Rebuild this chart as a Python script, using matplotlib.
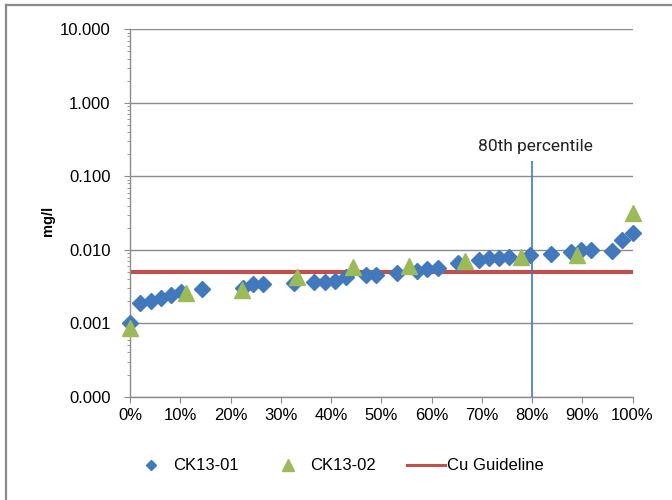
import matplotlib
matplotlib.use("Agg")
import matplotlib.pyplot as plt
from matplotlib.ticker import FixedLocator, LogLocator, FuncFormatter, NullFormatter
from matplotlib.lines import Line2D

# ---- data ----
ck1_pct = [0, 2.0, 4.1, 6.1, 8.2, 10.2, 14.3, 22.4, 24.5, 26.5, 32.7, 36.7, 38.8,
           40.8, 42.9, 46.9, 49.0, 53.1, 57.1, 59.2, 61.2, 65.3, 69.4, 71.4, 73.5,
           75.5, 79.6, 83.7, 87.8, 89.8, 91.8, 95.9, 98.0, 100]
ck1_val = [0.0010, 0.0019, 0.0020, 0.0022, 0.0024, 0.0027, 0.0029, 0.0030, 0.0034,
           0.0034, 0.0035, 0.0036, 0.0036, 0.0038, 0.0042, 0.0046, 0.0046, 0.0049,
           0.0052, 0.0055, 0.0056, 0.0066, 0.0072, 0.0076, 0.0076, 0.0079, 0.0086,
           0.0088, 0.0093, 0.0098, 0.0098, 0.0096, 0.0137, 0.0168]
ck2_pct = [0, 11.1, 22.2, 33.3, 44.4, 55.6, 66.7, 77.8, 88.9, 100]
ck2_val = [0.00086, 0.0026, 0.0028, 0.0042, 0.0058, 0.0061, 0.0071, 0.0079, 0.0084, 0.0319]
guideline = 0.005
pct80 = 80
x_ticks = [0, 10, 20, 30, 40, 50, 60, 70, 80, 90, 100]
y_ticks = [0.0001, 0.001, 0.01, 0.1, 1, 10]
labels = ["CK13-01", "CK13-02", "Cu Guideline"]

BLUE = "#4279BD"
GREEN = "#9BBB59"
RED = "#C0504D"
GRID = "#8C8C8C"

plt.rcParams["font.family"] = ["Liberation Sans", "DejaVu Sans"]

W, H = 672, 500
fig = plt.figure(figsize=(W / 100, H / 100), dpi=100)
ax = fig.add_axes([130 / W, (H - 396.7) / H, (632.5 - 130) / W, (396.7 - 29.3) / H])

ax.set_yscale("log")
ax.set_xlim(0, 100)
ax.set_ylim(y_ticks[0], y_ticks[-1])

ax.yaxis.set_major_locator(FixedLocator(y_ticks))
ax.yaxis.set_minor_locator(LogLocator(base=10, subs=range(2, 10)))
ax.yaxis.set_minor_formatter(NullFormatter())
ax.yaxis.set_major_formatter(FuncFormatter(lambda v, p: f"{v:.3f}"))
ax.xaxis.set_major_locator(FixedLocator(x_ticks))
ax.xaxis.set_major_formatter(FuncFormatter(lambda v, p: f"{v:.0f}%"))

ax.grid(axis="y", which="major", color=GRID, lw=1.0)
ax.set_axisbelow(True)
for s in ["top", "right"]:
    ax.spines[s].set_visible(False)
for s in ["left", "bottom"]:
    ax.spines[s].set_color(GRID)
    ax.spines[s].set_linewidth(1.0)

ax.tick_params(axis="y", which="major", direction="out", length=4, color=GRID,
               labelsize=12, pad=10)
ax.tick_params(axis="y", which="minor", direction="out", length=2.5, color=GRID)
ax.tick_params(axis="x", which="major", direction="out", length=4, color=GRID,
               labelsize=12, pad=4)

ax.set_ylabel("mg/l", fontsize=10.5, fontweight="bold")
ax.yaxis.set_label_coords(-0.149, 0.478)

# guideline
ax.axhline(guideline, color=RED, lw=3, zorder=2)
# 80th percentile line
ax.vlines(pct80, y_ticks[0], 0.163, color=BLUE, lw=1.2, zorder=2)
ax.text(80.7, 0.22, "80th percentile", ha="center", va="baseline",
        fontsize=12.5, family=["Roboto", "DejaVu Sans"], color="#222222")

ax.plot(ck1_pct, ck1_val, ls="none", marker="D", ms=8.3, color=BLUE,
        mec=BLUE, zorder=3, clip_on=False)
ax.plot(ck2_pct, ck2_val, ls="none", marker="^", ms=12, color=GREEN,
        mec=GREEN, zorder=4, clip_on=False)

handles = [
    Line2D([], [], ls="none", marker="D", ms=5.5, color=BLUE),
    Line2D([], [], ls="none", marker="^", ms=8, color=GREEN),
    Line2D([], [], color=RED, lw=2.2),
]
fig.legend(handles, labels, loc="center", bbox_to_anchor=(0.503, 0.068), ncol=3,
           frameon=False, fontsize=12, handlelength=2.3, handletextpad=0.15,
           columnspacing=1.85)

# outer frame (left and top edges visible)
fig.add_artist(Line2D([6 / W, 6 / W], [0, 1 - 5 / H], color="#8A8A8A", lw=1.6,
                      transform=fig.transFigure))
fig.add_artist(Line2D([6 / W, 1], [1 - 5 / H, 1 - 5 / H], color="#8A8A8A", lw=1.6,
                      transform=fig.transFigure))

fig.savefig("out.png", dpi=100)
